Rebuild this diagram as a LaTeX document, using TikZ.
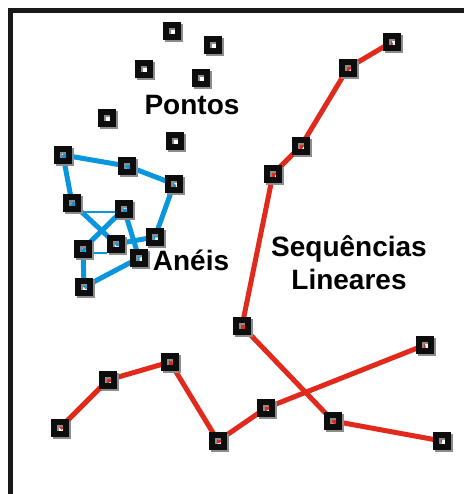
\documentclass[tikz,border=0pt]{standalone}
\usepackage{fontspec}
\setmainfont{Liberation Sans}
\usetikzlibrary{backgrounds,shadows}
\definecolor{anelblue}{RGB}{10,150,220}
\definecolor{seqred}{RGB}{225,42,28}

\begin{document}
\begin{tikzpicture}[x=1pt,y=-1pt,
    ponto/.style={rectangle, draw=black!95, line width=5.5pt, minimum size=12pt, inner sep=0pt,
      drop shadow={shadow xshift=1.8pt, shadow yshift=-1.8pt, opacity=1, fill=none, draw=black!45}},
    rotulo/.style={font=\bfseries\fontsize{28}{33}\selectfont, align=center, inner sep=0pt},
    anel/.style={anelblue, line width=5pt},
    fino/.style={anelblue, line width=1.5pt},
    seq/.style={seqred, line width=5pt, line join=round}]
      \useasboundingbox (0,0) rectangle (464,494);
      % frame
      \draw[line width=5pt, black!90] (464,10.5) -- (10.5,10.5) -- (10.5,494);
      % pontos
      \node[ponto] at (172, 31) (P1) {};
      \node[ponto] at (213, 45) (P2) {};
      \node[ponto] at (144, 69) (P3) {};
      \node[ponto] at (201, 78) (P4) {};
      \node[ponto] at (107, 118) (P5) {};
      \node[ponto] at (175, 141) (P6) {};
      % aneis
      \node[ponto] at (63, 155) (A1) {};
      \node[ponto] at (127, 166) (A2) {};
      \node[ponto] at (174, 184) (A3) {};
      \node[ponto] at (72, 203) (A4) {};
      \node[ponto] at (124, 209) (A5) {};
      \node[ponto] at (155, 237) (A6) {};
      \node[ponto] at (83, 249) (A7) {};
      \node[ponto] at (116, 244) (A8) {};
      \node[ponto] at (139, 258) (A9) {};
      \node[ponto] at (84, 287) (A10) {};
      % sequencias
      \node[ponto] at (392, 42) (S1) {};
      \node[ponto] at (348, 68) (S2) {};
      \node[ponto] at (301, 146) (S3) {};
      \node[ponto] at (273, 174) (S4) {};
      \node[ponto] at (242, 326) (S5) {};
      \node[ponto] at (333, 421) (S6) {};
      \node[ponto] at (442, 441) (S7) {};
      \node[ponto] at (60, 428) (L1) {};
      \node[ponto] at (108, 380) (L2) {};
      \node[ponto] at (170, 362) (L3) {};
      \node[ponto] at (218, 441) (L4) {};
      \node[ponto] at (266, 408) (L5) {};
      \node[ponto] at (425, 345) (L6) {};
      % labels
      \node[rotulo] at (192, 105) (Pontos) {Pontos};
      \node[rotulo] at (191, 260) (Aneis) {Anéis};
      \node[rotulo] at (349, 263) (Seq) {Sequências\\Lineares};

      \begin{scope}[on background layer]
      \draw[anel] (A1.center) -- (A2.center);
      \draw[anel] (A2.center) -- (A3.center);
      \draw[anel] (A1.center) -- (A4.center);
      \draw[anel] (A3.center) -- (A6.center);
      \draw[anel] (A4.center) -- (A8.center);
      \draw[anel] (A5.center) -- (A7.center);
      \draw[anel] (A5.center) -- (A9.center);
      \draw[anel] (A8.center) -- (A6.center);
      \draw[anel] (A7.center) -- (A10.center);
      \draw[anel] (A10.center) -- (A9.center);
      \draw[fino] (A4.south east) -- (A4.south east -| A5.west);
      \draw[fino] (A8.south west) -- (A8.south west -| A7.east);
      \draw[seq] (S1.center) -- (S2.center) -- (S3.center) -- (S4.center)
        -- (S5.center) -- (S6.center) -- (S7.center);
      \draw[seq] (L1.center) -- (L2.center) -- (L3.center) -- (L4.center)
        -- (L5.center) -- (L6.center);
      \end{scope}


  \end{tikzpicture}
\end{document}
